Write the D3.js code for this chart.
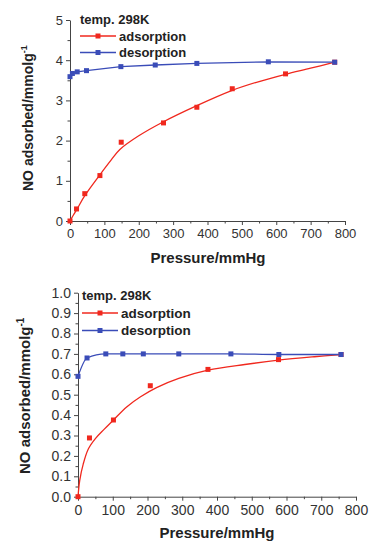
<!DOCTYPE html>
<html>
<head>
<meta charset="utf-8">
<script src="https://cdn.jsdelivr.net/npm/d3@7/dist/d3.min.js"></script>
<style>
body { margin: 0; background: #fff; }
svg  { display: block; font-family: "Liberation Sans", Arial, sans-serif; }
</style>
</head>
<body>
<svg id="svg"></svg>
<script>
// ---- data (pressure in mmHg, uptake in mmol/g) ----
var legendTitle  = "temp. 298K";
var seriesNames  = ["adsorption", "desorption"];
var xTicks       = [0, 100, 200, 300, 400, 500, 600, 700, 800];

// upper panel
var topYTicks    = [0, 1, 2, 3, 4, 5];
var topAdsP      = [0, 19, 43, 87, 149, 272, 369, 472, 627, 770];
var topAdsQ      = [0, 0.30, 0.68, 1.13, 1.96, 2.44, 2.83, 3.29, 3.66, 3.95];
var topFitP      = [0, 10, 20, 43, 87, 120, 145, 200, 272, 369, 472, 550, 627, 700, 770];
var topFitQ      = [0, 0.15, 0.29, 0.63, 1.15, 1.52, 1.78, 2.12, 2.47, 2.87, 3.25, 3.47, 3.65, 3.80, 3.95];
var topDesP      = [0, 7, 21, 48, 148, 248, 369, 577, 770];
var topDesQ      = [3.59, 3.67, 3.71, 3.74, 3.84, 3.88, 3.92, 3.96, 3.95];

// lower panel
var botYTicks    = [0, 0.1, 0.2, 0.3, 0.4, 0.5, 0.6, 0.7, 0.8, 0.9, 1.0];
var botAdsP      = [0, 33, 102, 208, 374, 577, 757];
var botAdsQ      = [0, 0.288, 0.376, 0.544, 0.624, 0.672, 0.697];
var botFitP      = [0, 5, 15, 30, 50, 75, 102, 140, 180, 226, 290, 374, 480, 577, 680, 757];
var botFitQ      = [0, 0.08, 0.16, 0.235, 0.285, 0.33, 0.376, 0.44, 0.49, 0.535, 0.58, 0.62, 0.648, 0.669, 0.686, 0.697];
var botDesP      = [0, 26, 80, 129, 188, 290, 440, 578, 757];
var botDesQ      = [0.59, 0.68, 0.70, 0.70, 0.70, 0.70, 0.70, 0.697, 0.697];

var RED  = "#f0281e";
var BLUE = "#3a4cb8";

function pairs(a, b) {
	return a.map(function(v, i) { return [v, b[i]]; });
}

function halfSteps(ticks) {
	var out = [];
	for (var i = 0; i < ticks.length - 1; i++) {
		out.push((ticks[i] + ticks[i + 1]) / 2);
	}
	return out;
}

var svg = d3.select("#svg")
	.attr("width", 369)
	.attr("height", 542);

function panel(cfg) {
	var x = d3.scaleLinear().domain([0, 800]).range([cfg.left, cfg.right]);
	var y = d3.scaleLinear().domain([0, cfg.yTicks[cfg.yTicks.length - 1]]).range([cfg.bottom, cfg.top]);

	var G = svg.append("g");

	// minor ticks first, then the major axes on top
	G.append("g")
		.attr("transform", "translate(0," + cfg.bottom + ")")
		.call(d3.axisBottom(x).tickValues(halfSteps(xTicks)).tickSize(2.5).tickFormat(""))
		.call(function(g) { g.select(".domain").remove(); });
	G.append("g")
		.attr("transform", "translate(" + cfg.left + ",0)")
		.call(d3.axisLeft(y).tickValues(halfSteps(cfg.yTicks)).tickSize(2.5).tickFormat(""))
		.call(function(g) { g.select(".domain").remove(); });

	var xa = G.append("g")
		.attr("transform", "translate(0," + cfg.bottom + ")")
		.call(d3.axisBottom(x).tickValues(xTicks).tickSize(4).tickSizeOuter(0).tickPadding(4));
	var ya = G.append("g")
		.attr("transform", "translate(" + cfg.left + ",0)")
		.call(d3.axisLeft(y).tickValues(cfg.yTicks).tickSize(4).tickSizeOuter(0).tickPadding(3)
		      .tickFormat(cfg.yFormat));

	G.selectAll(".domain, .tick line").attr("stroke", "#444").attr("stroke-width", 1);
	[xa, ya].forEach(function(a) {
		a.selectAll("text")
			.attr("fill", "#333")
			.style("font-size", cfg.tickFont + "px")
			.style("font-family", "'Liberation Sans', Arial, sans-serif");
	});

	// axis titles
	G.append("text")
		.attr("x", cfg.xTitle[0]).attr("y", cfg.xTitle[1])
		.attr("text-anchor", "middle")
		.style("font-size", "15px").style("font-weight", "bold")
		.attr("fill", "#222")
		.text("Pressure/mmHg");

	var yt = G.append("text")
		.attr("transform", "translate(" + cfg.yTitle[0] + "," + cfg.yTitle[1] + ") rotate(-90)")
		.style("font-size", cfg.yTitleFont + "px").style("font-weight", "bold")
		.attr("fill", "#222");
	yt.append("tspan").text("NO adsorbed/mmolg");
	yt.append("tspan").attr("dy", -6).style("font-size", (cfg.yTitleFont - 5) + "px").text("-1");

	var line = d3.line()
		.x(function(d) { return x(d[0]); })
		.y(function(d) { return y(d[1]); });

	// adsorption: fitted curve + measured points
	G.append("path")
		.attr("d", line.curve(d3.curveCatmullRom.alpha(0.5))(pairs(cfg.fitP, cfg.fitQ)))
		.attr("fill", "none").attr("stroke", RED).attr("stroke-width", 1.3);

	// desorption: line through points
	G.append("path")
		.attr("d", line.curve(cfg.desCurve)(pairs(cfg.desP, cfg.desQ)))
		.attr("fill", "none").attr("stroke", BLUE).attr("stroke-width", 1.3);

	function markers(data, color) {
		G.selectAll(null)
			.data(data)
			.enter()
			.append("rect")
			.attr("x", function(d) { return x(d[0]) - 2.5; })
			.attr("y", function(d) { return y(d[1]) - 2.5; })
			.attr("width", 5).attr("height", 5)
			.attr("fill", color);
	}
	markers(pairs(cfg.adsP, cfg.adsQ), RED);
	markers(pairs(cfg.desP, cfg.desQ), BLUE);

	// legend
	var L = cfg.legend;
	G.append("text")
		.attr("x", L.x).attr("y", L.y)
		.style("font-size", "13px").style("font-weight", "bold")
		.attr("fill", "#222")
		.text(legendTitle);
	[RED, BLUE].forEach(function(c, i) {
		var ly = L.y + L.dy * (i + 1) - 4;
		G.append("line")
			.attr("x1", L.x).attr("x2", L.x + 36)
			.attr("y1", ly).attr("y2", ly)
			.attr("stroke", c).attr("stroke-width", 1.3);
		G.append("rect")
			.attr("x", L.x + 18 - 2.5).attr("y", ly - 2.5)
			.attr("width", 5).attr("height", 5)
			.attr("fill", c);
		G.append("text")
			.attr("x", L.x + 39).attr("y", ly + 4.5)
			.style("font-size", L.font + "px").style("font-weight", "bold")
			.attr("fill", "#222")
			.text(seriesNames[i]);
	});
}

panel({
	left: 70, right: 345, top: 20, bottom: 221,
	yTicks: topYTicks, yFormat: d3.format("d"), tickFont: 13,
	adsP: topAdsP, adsQ: topAdsQ, fitP: topFitP, fitQ: topFitQ,
	desP: topDesP, desQ: topDesQ, desCurve: d3.curveLinear,
	xTitle: [208, 263], yTitle: [32.5, 191], yTitleFont: 14,
	legend: { x: 80, y: 23.5, dy: 16.5, font: 13 }
});

panel({
	left: 78, right: 356, top: 292.7, bottom: 496.7,
	yTicks: botYTicks, yFormat: d3.format(".1f"), tickFont: 14,
	adsP: botAdsP, adsQ: botAdsQ, fitP: botFitP, fitQ: botFitQ,
	desP: botDesP, desQ: botDesQ, desCurve: d3.curveMonotoneX,
	xTitle: [217, 538], yTitle: [30, 474], yTitleFont: 15,
	legend: { x: 82, y: 299.5, dy: 17.5, font: 13.5 }
});
</script>
</body>
</html>
